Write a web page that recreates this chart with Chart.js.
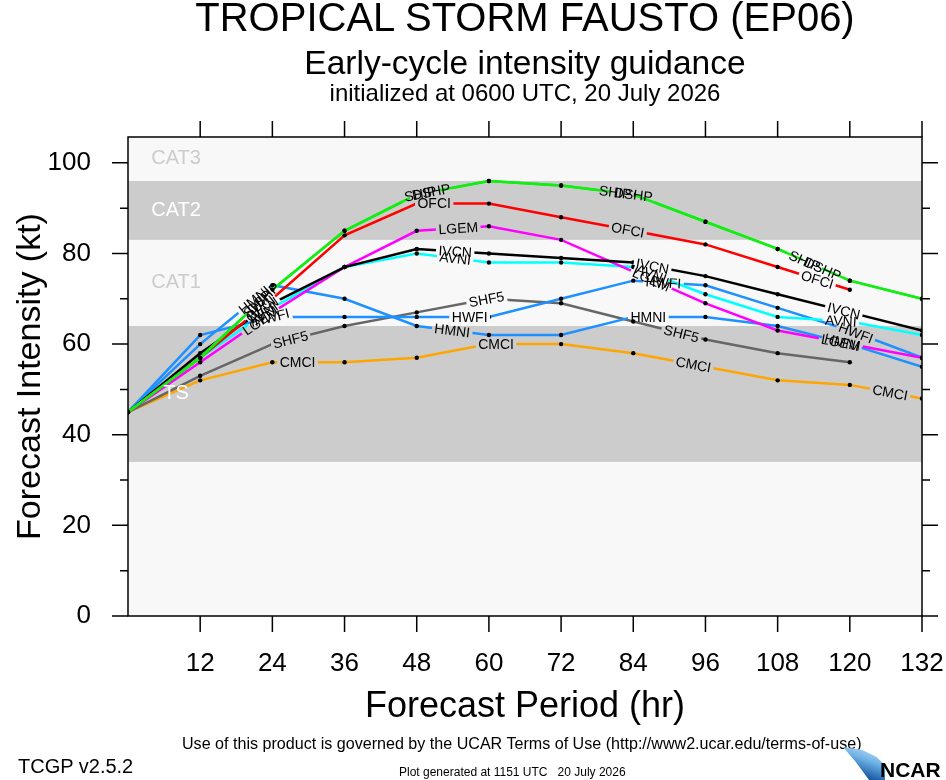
<!DOCTYPE html>
<html>
<head>
<meta charset="utf-8">
<title>Early-cycle intensity guidance</title>
<script src="https://cdn.jsdelivr.net/npm/chart.js@4.4.0/dist/chart.umd.min.js"></script>
<style>
  body { margin: 0; background: #fff; font-family: "Liberation Sans", Arial, sans-serif; }
  #wrap { position: relative; width: 946px; height: 780px; overflow: hidden; }
  #chart { position: absolute; left: 0; top: 0; }
  .txt { position: absolute; white-space: pre; color: #000; line-height: 1; }
  .center { left: 128px; width: 794px; text-align: center; }
  #swoosh { position: absolute; left: 843px; top: 747px; width: 42px; height: 33px;
    background: linear-gradient(200deg, #d9ecfb 0%, #6fb3e6 40%, #1f5fa8 75%, #0d3a78 100%);
    clip-path: polygon(0 0, 45% 8%, 80% 30%, 100% 55%, 100% 100%, 62% 100%, 30% 45%); }
</style>
</head>
<body>
<div id="wrap">
  <canvas id="chart" width="946" height="780"></canvas>
  <div class="txt center" style="top:-3px;font-size:40px">TROPICAL STORM FAUSTO (EP06)</div>
  <div class="txt center" style="top:46px;font-size:33.5px">Early-cycle intensity guidance</div>
  <div class="txt center" style="top:81px;font-size:24px">initialized at 0600 UTC, 20 July 2026</div>
  <div class="txt" style="left:182px;top:735px;font-size:16.1px">Use of this product is governed by the UCAR Terms of Use (http://www2.ucar.edu/terms-of-use)</div>
  <div class="txt" style="left:18px;top:756px;font-size:20px">TCGP v2.5.2</div>
  <div class="txt" style="left:399px;top:766px;font-size:12px">Plot generated at 1151 UTC   20 July 2026</div>
  <div id="swoosh"></div>
  <div class="txt" style="left:880px;top:759px;font-size:21px;font-weight:bold">NCAR</div>
</div>
<script>
// forecast hours (x axis)
const hours = [0, 12, 24, 36, 48, 60, 72, 84, 96, 108, 120, 132];

// intensity forecasts (kt) for each model
const ship = [45, 57, 72, 85, 93, 96, 95, 93, 87, 81, 74, 70];
const dshp = [45, 57, 72, 85, 93, 96, 95, 93, 87, 81, 74, 70];
const ofci = [45, 57, 70, 84, 91, 91, 88, 85, 82, 77, 72];
const lgem = [45, 56, 67, 77, 85, 86, 83, 76, 69, 63, 60, 57];
const ivcn = [45, 58, 69, 77, 81, 80, 79, 78, 75, 71, 67, 63];
const avni = [45, 57, 68, 77, 80, 78, 78, 77, 71, 66, 65, 62];
const hwfi = [45, 62, 66, 66, 66, 66, 70, 74, 73, 68, 63, 57];
const hmni = [45, 60, 73, 70, 64, 62, 62, 66, 66, 64, 60, 55];
const shf5 = [45, 53, 60, 64, 67, 70, 69, 65, 61, 58, 56];
const cmci = [45, 52, 56, 56, 57, 60, 60, 58, 55, 52, 51, 48];

// hours along each line where the model name is written
const labelHours = {
  SHIP: [21.5, 48.6, 81, 112.5],
  DSHP: [22.5, 50.4, 84, 115.5],
  OFCI: [22, 50.9, 83.1, 114.6],
  LGEM: [22, 54.9, 87, 118.5],
  IVCN: [22.5, 54.4, 87.2, 119],
  AVNI: [22.5, 54.4, 87, 118.5],
  HWFI: [23.9, 56.8, 89, 121],
  HMNI: [21, 53.9, 86.5, 118.7],
  SHF5: [27, 59.6, 92],
  CMCI: [28.2, 61.2, 94, 126.7]
};

// intensity categories (kt)
const bandNames = ['', 'TS', 'CAT1', 'CAT2', 'CAT3'];
const bandFrom = [0, 34, 64, 83, 96];
const bandTo = [34, 64, 83, 96, 200];

const yTicks = [0, 20, 40, 60, 80, 100];
const xTicks = [12, 24, 36, 48, 60, 72, 84, 96, 108, 120, 132];

const FONT = '"Liberation Sans", Arial, sans-serif';
const LIGHT = '#f8f8f8';
const GRAY = '#cccccc';
const bandColors = [LIGHT, GRAY, LIGHT, GRAY, LIGHT];
const bandTextColors = ['#cccccc', '#ffffff', '#cccccc', '#ffffff', '#cccccc'];

const models = [
  { name: 'SHIP', values: ship, color: '#11ee11' },
  { name: 'DSHP', values: dshp, color: '#11ee11' },
  { name: 'OFCI', values: ofci, color: '#ff0000' },
  { name: 'IVCN', values: ivcn, color: '#000000' },
  { name: 'LGEM', values: lgem, color: '#ff00ff' },
  { name: 'AVNI', values: avni, color: '#00ffff' },
  { name: 'HWFI', values: hwfi, color: '#1e90ff' },
  { name: 'HMNI', values: hmni, color: '#1e90ff' },
  { name: 'SHF5', values: shf5, color: '#666666' },
  { name: 'CMCI', values: cmci, color: '#ffa500' }
];

const datasets = models.map(m => ({
  label: m.name,
  data: m.values.map((v, i) => ({ x: hours[i], y: v })),
  borderColor: m.color,
  borderWidth: 2.5,
  tension: 0,
  pointRadius: 2.2,
  pointBackgroundColor: '#000',
  pointBorderWidth: 0,
  labelAt: labelHours[m.name]
}));

const bandPlugin = {
  id: 'bands',
  beforeDatasetsDraw(chart) {
    const { ctx, chartArea: a, scales: { y } } = chart;
    bandFrom.forEach((from, i) => {
      const top = y.getPixelForValue(Math.min(bandTo[i], y.max));
      const bot = y.getPixelForValue(from);
      ctx.fillStyle = bandColors[i];
      ctx.fillRect(a.left, top, a.right - a.left, bot - top);
    });
  },
  // category names sit on top of the lines
  afterDatasetsDraw(chart) {
    const { ctx, scales: { x, y } } = chart;
    ctx.save();
    ctx.font = '20px ' + FONT;
    ctx.textAlign = 'center';
    ctx.textBaseline = 'middle';
    bandNames.forEach((name, i) => {
      if (!name) return;
      const mid = (bandFrom[i] + Math.min(bandTo[i], y.max)) / 2;
      ctx.fillStyle = bandTextColors[i];
      ctx.fillText(name, x.getPixelForValue(8), y.getPixelForValue(mid));
    });
    ctx.restore();
  }
};

// where each name sits on its own line, and the angle of the line there
function labelBoxes(chart, index) {
  const ds = chart.data.datasets[index];
  const { ctx, scales: { x, y } } = chart;
  ctx.save();
  ctx.font = '14px ' + FONT;
  const w = ctx.measureText(ds.label).width + 5;
  ctx.restore();
  const out = [];
  (ds.labelAt || []).forEach(h => {
    const d = ds.data;
    let k = -1;
    for (let i = 0; i < d.length - 1; i++) {
      if (d[i].x <= h && d[i + 1].x >= h) { k = i; break; }
    }
    if (k < 0) return;
    const p0 = d[k], p1 = d[k + 1];
    const t = (h - p0.x) / (p1.x - p0.x);
    const v = p0.y + t * (p1.y - p0.y);
    const ang = Math.atan2(y.getPixelForValue(p1.y) - y.getPixelForValue(p0.y),
                           x.getPixelForValue(p1.x) - x.getPixelForValue(p0.x));
    out.push({ x: x.getPixelForValue(h), y: y.getPixelForValue(v), ang, w, text: ds.label });
  });
  return out;
}

const labelPlugin = {
  id: 'modelLabels',
  // cut a gap in the line where its own name goes
  beforeDatasetDraw(chart, args) {
    const ctx = chart.ctx;
    ctx.save();
    ctx.beginPath();
    ctx.rect(0, 0, chart.width, chart.height);
    labelBoxes(chart, args.index).forEach(b => {
      const c = Math.cos(b.ang), s = Math.sin(b.ang);
      const hw = b.w / 2, hh = 7;
      const pts = [[-hw, -hh], [hw, -hh], [hw, hh], [-hw, hh]]
        .map(([u, v]) => [b.x + u * c - v * s, b.y + u * s + v * c]);
      ctx.moveTo(pts[0][0], pts[0][1]);
      pts.slice(1).forEach(p => ctx.lineTo(p[0], p[1]));
      ctx.closePath();
    });
    ctx.clip('evenodd');
  },
  afterDatasetDraw(chart) {
    chart.ctx.restore();
  },
  afterDatasetsDraw(chart) {
    const ctx = chart.ctx;
    ctx.save();
    ctx.font = '14px ' + FONT;
    ctx.fillStyle = '#000';
    ctx.textAlign = 'center';
    ctx.textBaseline = 'middle';
    chart.data.datasets.forEach((ds, i) => {
      labelBoxes(chart, i).forEach(b => {
        ctx.save();
        ctx.translate(b.x, b.y);
        ctx.rotate(b.ang);
        ctx.fillText(b.text, 0, 1);
        ctx.restore();
      });
    });
    ctx.restore();
  }
};

// black frame with outward tick marks on all four sides
const framePlugin = {
  id: 'frame',
  afterDatasetsDraw(chart) {
    const { ctx, chartArea: a, scales: { x, y } } = chart;
    ctx.save();
    ctx.strokeStyle = '#000';
    ctx.lineWidth = 1.5;
    ctx.strokeRect(a.left, a.top, a.right - a.left, a.bottom - a.top);
    ctx.beginPath();
    for (let v = 0; v <= 100; v += 10) {
      const py = y.getPixelForValue(v);
      const len = v % 20 === 0 ? 16 : 8;
      ctx.moveTo(a.left - len, py); ctx.lineTo(a.left, py);
      ctx.moveTo(a.right, py); ctx.lineTo(a.right + len, py);
    }
    xTicks.forEach(h => {
      const px = x.getPixelForValue(h);
      ctx.moveTo(px, a.bottom); ctx.lineTo(px, a.bottom + 16);
      ctx.moveTo(px, a.top); ctx.lineTo(px, a.top - 16);
    });
    ctx.stroke();
    ctx.restore();
  }
};

const ctx = document.getElementById('chart').getContext('2d');
new Chart(ctx, {
  type: 'line',
  data: { datasets },
  options: {
    responsive: false,
    animation: false,
    events: [],
    layout: { padding: { left: 0, top: 137, right: 24, bottom: 0 } },
    plugins: { legend: { display: false }, tooltip: { enabled: false } },
    scales: {
      x: {
        type: 'linear', min: 0, max: 132,
        afterFit(s) { s.height = 164; s.paddingLeft = 0; s.paddingRight = 0; },
        grid: { display: false, drawTicks: false },
        border: { display: false },
        afterBuildTicks(s) { s.ticks = [0].concat(xTicks).map(v => ({ value: v })); },
        ticks: {
          autoSkip: false, maxRotation: 0, padding: 32, color: '#000',
          font: { size: 26, family: FONT },
          callback: v => (v === 0 ? '' : v)
        },
        title: {
          display: true, text: 'Forecast Period (hr)', color: '#000',
          font: { size: 36, family: FONT }, padding: { top: 0, bottom: 51 }
        }
      },
      y: {
        min: 0, max: 105.7,
        afterFit(s) { s.width = 128; s.paddingTop = 0; s.paddingBottom = 0; },
        grid: { display: false, drawTicks: false },
        border: { display: false },
        afterBuildTicks(s) { s.ticks = yTicks.map(v => ({ value: v })); },
        ticks: { padding: 37, color: '#000', font: { size: 26, family: FONT } },
        title: {
          display: true, text: 'Forecast Intensity (kt)', color: '#000',
          font: { size: 34, family: FONT }, padding: { top: 10, bottom: 0 }
        }
      }
    }
  },
  plugins: [bandPlugin, labelPlugin, framePlugin]
});
</script>
</body>
</html>
